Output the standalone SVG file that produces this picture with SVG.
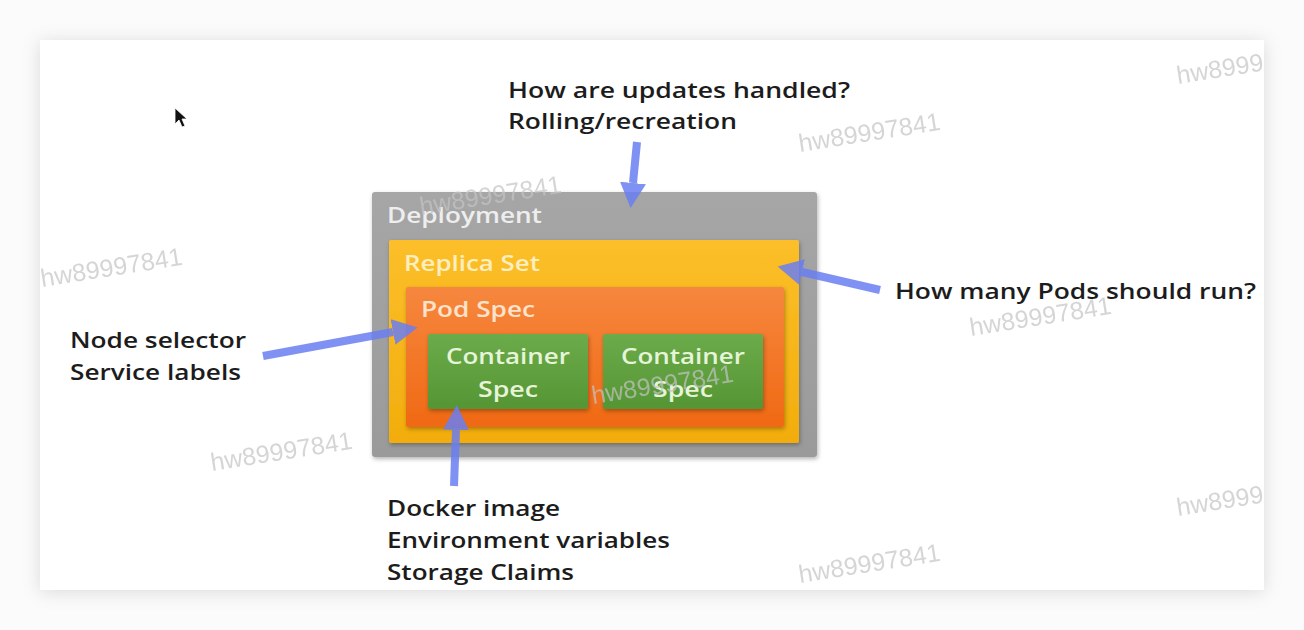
<svg xmlns="http://www.w3.org/2000/svg" width="1304" height="630" viewBox="0 0 1304 630">
<defs>
<style>
.lbl{font-family:"Open Sans","Liberation Sans",sans-serif;font-weight:600;font-size:22px;fill:#1c1c1c}
.box{font-family:"Open Sans","Liberation Sans",sans-serif;font-weight:600;font-size:22px}
.wm{font-family:"Liberation Sans",Arial,sans-serif;font-size:25px;fill:#c4c4c4;opacity:0.7}
.arr{stroke:#6a7ef2;stroke-width:8;stroke-opacity:0.85;fill:none}
</style>
<filter id="cardsh" x="-5%" y="-10%" width="110%" height="120%">
<feDropShadow dx="0" dy="2" stdDeviation="9" flood-color="#000" flood-opacity="0.13"/>
</filter>
<filter id="bsh" x="-5%" y="-5%" width="110%" height="115%">
<feDropShadow dx="1" dy="2" stdDeviation="2" flood-color="#000" flood-opacity="0.3"/>
</filter>
<linearGradient id="gGray" x1="0" y1="0" x2="0" y2="1"><stop offset="0" stop-color="#a6a6a6"/><stop offset="1" stop-color="#9a9a9a"/></linearGradient>
<linearGradient id="gYel" x1="0" y1="0" x2="0" y2="1"><stop offset="0" stop-color="#fcbf2a"/><stop offset="1" stop-color="#f2ad0c"/></linearGradient>
<linearGradient id="gOr" x1="0" y1="0" x2="0" y2="1"><stop offset="0" stop-color="#f6873e"/><stop offset="1" stop-color="#f06914"/></linearGradient>
<linearGradient id="gGr" x1="0" y1="0" x2="0" y2="1"><stop offset="0" stop-color="#6cab4a"/><stop offset="1" stop-color="#559534"/></linearGradient>
<marker id="head" markerUnits="userSpaceOnUse" markerWidth="26" markerHeight="26" refX="0" refY="13" orient="auto">
<path d="M0,0 L25,13 L0,26 z" fill="#6a7ef2" fill-opacity="0.85"/>
</marker>
<clipPath id="cardclip"><rect x="40" y="40" width="1224" height="550"/></clipPath>
</defs>
<rect x="0" y="0" width="1304" height="630" fill="#fbfbfb"/>
<rect x="40" y="40" width="1224" height="550" fill="#ffffff" filter="url(#cardsh)"/>

<g id="deployment">
<rect x="372" y="192" width="445" height="265" rx="3" fill="url(#gGray)" filter="url(#bsh)"/>
<text class="box" x="387" y="223" fill="#eeeeee" textLength="155" lengthAdjust="spacingAndGlyphs">Deployment</text>
</g>
<g id="replicaset">
<rect x="389" y="240" width="410" height="203" rx="2" fill="url(#gYel)" filter="url(#bsh)"/>
<text class="box" x="404" y="271" fill="#fdeebf" textLength="136" lengthAdjust="spacingAndGlyphs">Replica Set</text>
</g>
<g id="podspec">
<rect x="406" y="287" width="378" height="140" rx="2" fill="url(#gOr)" filter="url(#bsh)"/>
<text class="box" x="421" y="317" fill="#fde3cc" textLength="114" lengthAdjust="spacingAndGlyphs">Pod Spec</text>
</g>
<g id="container1">
<rect x="428" y="334" width="160" height="75" rx="2" fill="url(#gGr)" filter="url(#bsh)"/>
<text class="box" x="446" y="364" fill="#e6f4d8" textLength="124" lengthAdjust="spacingAndGlyphs">Container</text>
<text class="box" x="478" y="397" fill="#e6f4d8" textLength="60" lengthAdjust="spacingAndGlyphs">Spec</text>
</g>
<g id="container2">
<rect x="603" y="334" width="160" height="75" rx="2" fill="url(#gGr)" filter="url(#bsh)"/>
<text class="box" x="621" y="364" fill="#e6f4d8" textLength="124" lengthAdjust="spacingAndGlyphs">Container</text>
<text class="box" x="653" y="397" fill="#e6f4d8" textLength="60" lengthAdjust="spacingAndGlyphs">Spec</text>
</g>

<g id="label-updates">
<text class="lbl" x="508" y="98" textLength="342" lengthAdjust="spacingAndGlyphs">How are updates handled?</text>
<text class="lbl" x="508" y="129" textLength="229" lengthAdjust="spacingAndGlyphs">Rolling/recreation</text>
</g>
<g id="label-pods">
<text class="lbl" x="895" y="299" textLength="361" lengthAdjust="spacingAndGlyphs">How many Pods should run?</text>
</g>
<g id="label-node">
<text class="lbl" x="70" y="348" textLength="176" lengthAdjust="spacingAndGlyphs">Node selector</text>
<text class="lbl" x="70" y="380" textLength="171" lengthAdjust="spacingAndGlyphs">Service labels</text>
</g>
<g id="label-docker">
<text class="lbl" x="387" y="516" textLength="173" lengthAdjust="spacingAndGlyphs">Docker image</text>
<text class="lbl" x="387" y="548" textLength="283" lengthAdjust="spacingAndGlyphs">Environment variables</text>
<text class="lbl" x="387" y="580" textLength="187" lengthAdjust="spacingAndGlyphs">Storage Claims</text>
</g>

<g id="connectors">
<line class="arr" x1="637" y1="142" x2="633" y2="183" marker-end="url(#head)"/>
<line class="arr" x1="880" y1="290" x2="802" y2="272" marker-end="url(#head)"/>
<line class="arr" x1="263" y1="356" x2="393" y2="332" marker-end="url(#head)"/>
<line class="arr" x1="454" y1="486" x2="456" y2="430" marker-end="url(#head)"/>
</g>

<g id="cursor">
<path d="M175,108 L175,124 L179,120 L182,127 L185,126 L182,119 L187,119 z" fill="#111" stroke="#fff" stroke-width="0.8"/>
</g>

<g id="watermarks" clip-path="url(#cardclip)">
<text class="wm" transform="translate(1178,84) rotate(-9)">hw8999</text>
<text class="wm" transform="translate(800,152) rotate(-9)">hw89997841</text>
<text class="wm" transform="translate(421,215) rotate(-9)">hw89997841</text>
<text class="wm" transform="translate(42,287) rotate(-9)">hw89997841</text>
<text class="wm" transform="translate(971,336) rotate(-9)">hw89997841</text>
<text class="wm" transform="translate(593,404) rotate(-9)">hw89997841</text>
<text class="wm" transform="translate(212,471) rotate(-9)">hw89997841</text>
<text class="wm" transform="translate(1178,516) rotate(-9)">hw8999</text>
<text class="wm" transform="translate(800,583) rotate(-9)">hw89997841</text>
</g>
</svg>
